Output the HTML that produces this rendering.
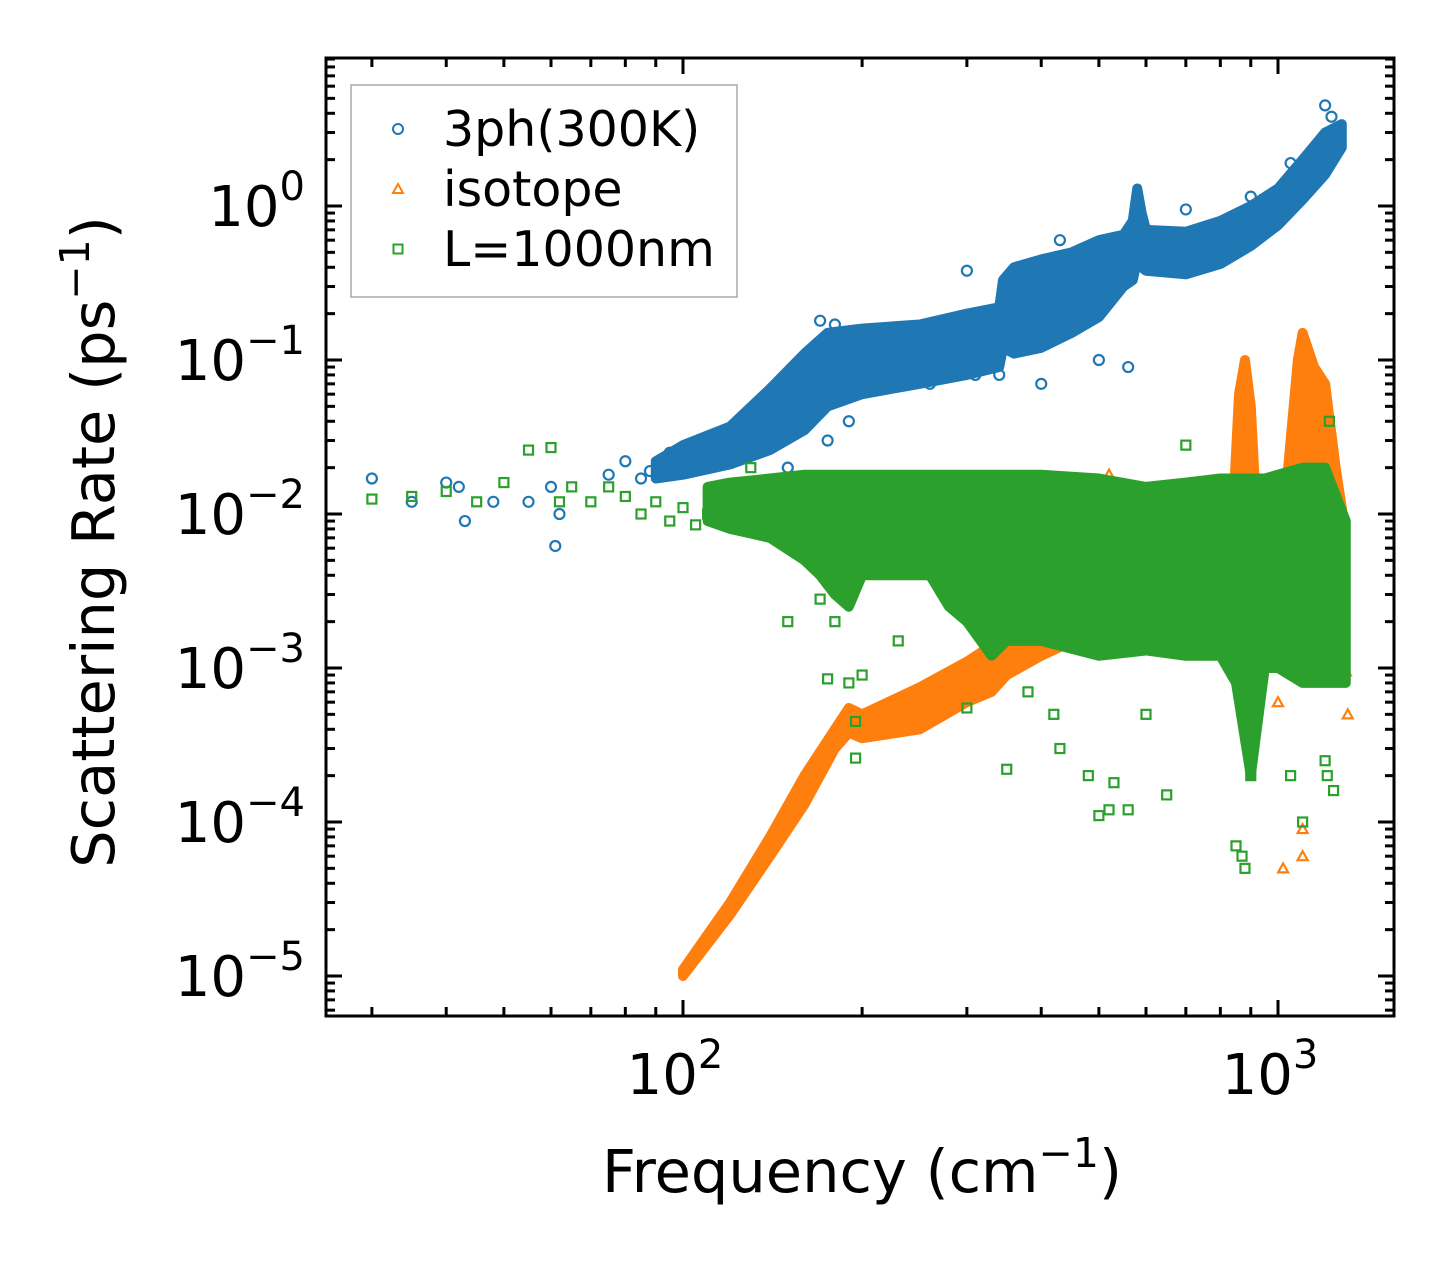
<!DOCTYPE html>
<html><head><meta charset="utf-8"><style>
body{margin:0;background:#fff}
svg{display:block}
text{font-family:"DejaVu Sans","Liberation Sans",sans-serif;fill:#000}
</style></head><body>
<svg id="chart" width="1455" height="1265" xmlns="http://www.w3.org/2000/svg"></svg>
<script>
// ---- data ----
const xTickVals=[100,1000];
const xTickExp=["2","3"];
const yTickVals=[1,0.1,0.01,0.001,0.0001,0.00001];
const yTickExp=["0","\u22121","\u22122","\u22123","\u22124","\u22125"];
// blue (3ph) dense band envelope
const bFreq=[90,100,120,140,160,175,200,250,300,340,345,360,400,450,500,550,570,580,590,600,700,800,900,1000,1100,1200,1280];
const bLow=[0.017,0.018,0.021,0.026,0.035,0.05,0.06,0.07,0.08,0.09,0.12,0.11,0.12,0.15,0.19,0.3,0.33,0.45,0.4,0.38,0.36,0.42,0.55,0.75,1.1,1.6,2.4];
const bHigh=[0.022,0.028,0.037,0.065,0.11,0.15,0.16,0.17,0.2,0.22,0.33,0.4,0.45,0.5,0.6,0.65,0.8,1.3,0.9,0.7,0.68,0.8,1.0,1.3,2.0,3.0,3.4];
// blue outliers
const bPtF=[30,35,40,42,43,48,55,60,61,62,75,80,85,88,95,110,120,130,140,150,170,175,180,190,230,260,300,310,340,400,430,500,560,700,900,1050,1200,1230,1250];
const bPtY=[0.017,0.012,0.016,0.015,0.009,0.012,0.012,0.015,0.0062,0.01,0.018,0.022,0.017,0.019,0.025,0.03,0.028,0.034,0.03,0.02,0.18,0.03,0.17,0.04,0.07,0.07,0.38,0.08,0.08,0.07,0.6,0.1,0.09,0.95,1.15,1.9,4.5,3.8,3.0];
// orange (isotope) dense band envelope
const oFreq=[100,120,140,160,180,190,200,250,300,330,350,400,500,600,700,800,840,860,880,900,920,950,1000,1040,1080,1100,1150,1200,1250,1290];
const oLow=[0.00001,0.000025,0.00006,0.00013,0.0003,0.00038,0.00035,0.0004,0.0006,0.0007,0.0009,0.0012,0.0018,0.002,0.002,0.0025,0.003,0.003,0.003,0.003,0.003,0.003,0.003,0.004,0.004,0.004,0.004,0.004,0.003,0.003];
const oHigh=[0.000011,0.00003,0.00008,0.0002,0.0004,0.00055,0.0005,0.00075,0.0011,0.0014,0.002,0.003,0.004,0.005,0.006,0.007,0.01,0.06,0.1,0.05,0.01,0.008,0.01,0.02,0.1,0.15,0.09,0.07,0.02,0.009];
const oPtF=[520,900,1000,1020,1100,1100,1300,1310];
const oPtY=[0.018,0.0008,0.0006,0.00005,0.00009,0.00006,0.00095,0.0005];
// green (boundary) dense band envelope
const gFreq=[110,120,140,160,170,180,190,200,230,260,280,300,330,350,400,500,600,700,800,850,900,950,1000,1100,1200,1300];
const gLow=[0.009,0.008,0.007,0.005,0.004,0.003,0.0025,0.004,0.004,0.004,0.0025,0.002,0.0012,0.0015,0.0015,0.0012,0.0013,0.0012,0.0012,0.0008,0.0002,0.001,0.001,0.0008,0.0008,0.0008];
const gHigh=[0.015,0.016,0.017,0.018,0.018,0.018,0.018,0.018,0.018,0.018,0.018,0.018,0.018,0.018,0.018,0.017,0.015,0.016,0.017,0.017,0.017,0.017,0.018,0.02,0.02,0.009];
const gPtF=[30,35,40,45,50,55,60,62,65,70,75,80,85,90,95,100,105,110,130,150,170,175,180,190,195,195,200,230,300,350,380,420,430,480,500,520,530,560,600,650,700,850,870,880,900,900,1050,1100,1200,1210,1220,1240];
const gPtY=[0.0125,0.013,0.014,0.012,0.016,0.026,0.027,0.012,0.015,0.012,0.015,0.013,0.01,0.012,0.009,0.011,0.0085,0.01,0.02,0.002,0.0028,0.00085,0.002,0.0008,0.00045,0.00026,0.0009,0.0015,0.00055,0.00022,0.0007,0.0005,0.0003,0.0002,0.00011,0.00012,0.00018,0.00012,0.0005,0.00015,0.028,0.00007,0.00006,0.00005,0.0002,0.0004,0.0002,0.0001,0.00025,0.0002,0.04,0.00016];

// ---- axes ----
const X0=326,X1=1394,Y0=58,Y1=1016;
const xs=v=>683+(Math.log10(v)-2)*595;
const ys=v=>206-Math.log10(v)*154;
const svg=document.getElementById('chart');
const NS='http://www.w3.org/2000/svg';
function mk(tag,attrs,parent){const e=document.createElementNS(NS,tag);for(const k in attrs)e.setAttribute(k,attrs[k]);(parent||svg).appendChild(e);return e;}

const plot=mk('g',{});


const clip=mk('clipPath',{id:'cp'});mk('rect',{x:X0,y:Y0,width:X1-X0,height:Y1-Y0},clip);
plot.setAttribute('clip-path','url(#cp)');

function band(F,L,H,color,name){
  let pts=F.map((f,i)=>xs(f)+','+ys(H[i]));
  for(let i=F.length-1;i>=0;i--)pts.push(xs(F[i])+','+ys(L[i]));
  const p=mk('polygon',{points:pts.join(' '),fill:color,stroke:color,'stroke-width':10,'stroke-linejoin':'round'},plot);
  
  
}
function pts(F,Y,color,shape,name){
  const g=mk('g',{fill:'none',stroke:color,'stroke-width':2.2},plot);
  
  
  F.forEach((f,i)=>{const x=xs(f),y=ys(Y[i]);
    if(shape==='o')mk('circle',{cx:x,cy:y,r:5},g);
    else if(shape==='s')mk('rect',{x:x-4.5,y:y-4.5,width:9,height:9},g);
    else mk('polygon',{points:`${x},${y-5} ${x-5},${y+4} ${x+5},${y+4}`},g);});
}
band(bFreq,bLow,bHigh,'#1f77b4','series-3ph-band');
pts(bPtF,bPtY,'#1f77b4','o','series-3ph-points');
band(oFreq,oLow,oHigh,'#ff7f0e','series-isotope-band');
pts(oPtF,oPtY,'#ff7f0e','t','series-isotope-points');
band(gFreq,gLow,gHigh,'#2ca02c','series-boundary-band');
pts(gPtF,gPtY,'#2ca02c','s','series-boundary-points');

// frame
const fr=mk('rect',{x:X0,y:Y0,width:X1-X0,height:Y1-Y0,fill:'none',stroke:'#000','stroke-width':3});


const tk=mk('g',{stroke:'#000','stroke-width':3});


for(let d=1;d<=3;d++)for(let m=1;m<10;m++){const v=m*Math.pow(10,d);const x=xs(v);if(x<X0||x>X1)continue;
  const L=m===1?16:9;mk('line',{x1:x,y1:Y1,x2:x,y2:Y1-L},tk);mk('line',{x1:x,y1:Y0,x2:x,y2:Y0+L},tk);}
for(let d=-6;d<=0;d++)for(let m=1;m<10;m++){const v=m*Math.pow(10,d);const y=ys(v);if(y<Y0||y>Y1)continue;
  const L=m===1?16:9;mk('line',{x1:X0,y1:y,x2:X0+L,y2:y},tk);mk('line',{x1:X1,y1:y,x2:X1-L,y2:y},tk);}
// tick labels
xTickVals.forEach((v,i)=>{const t=mk('text',{x:xs(v)-8,y:1094,'font-size':56,'text-anchor':'middle'});
  
  
  t.textContent='10';const s=mk('tspan',{dy:-26,'font-size':40},t);s.textContent=xTickExp[i];});
yTickVals.forEach((v,i)=>{const t=mk('text',{x:305,y:ys(v)+20,'font-size':56,'text-anchor':'end'});
  
  
  t.textContent='10';const s=mk('tspan',{dy:-26,'font-size':40},t);s.textContent=yTickExp[i];});
// axis titles
const xt=mk('text',{x:862,y:1192,'font-size':59,'text-anchor':'middle'});


xt.innerHTML='Frequency (cm<tspan dy="-25" font-size="41">\u22121</tspan><tspan dy="25">)</tspan>';
const yt=mk('text',{x:0,y:0,'font-size':59,'text-anchor':'middle',transform:'translate(114,542) rotate(-90)'});


yt.innerHTML='Scattering Rate (ps<tspan dy="-25" font-size="41">\u22121</tspan><tspan dy="25">)</tspan>';
// legend
const lg=mk('g',{});


mk('rect',{x:351,y:85,width:386,height:212,fill:'#fff',stroke:'#aaa','stroke-width':1.5},lg);
const names=['3ph(300K)','isotope','L=1000nm'],cols=['#1f77b4','#ff7f0e','#2ca02c'],shp=['o','t','s'];
names.forEach((n,i)=>{const y=133+i*60;const e=mk('g',{fill:'none',stroke:cols[i],'stroke-width':2},lg);
  
  
  const x=398;
  if(shp[i]==='o')mk('circle',{cx:x,cy:y-4,r:5},e);
  else if(shp[i]==='s')mk('rect',{x:x-4.5,y:y-8.5,width:9,height:9},e);
  else mk('polygon',{points:`${x},${y-9} ${x-5},${y} ${x+5},${y}`},e);
  const t=mk('text',{x:443,y:y+13,'font-size':49,stroke:'none'},e);t.textContent=n;});
</script>
</body></html>
